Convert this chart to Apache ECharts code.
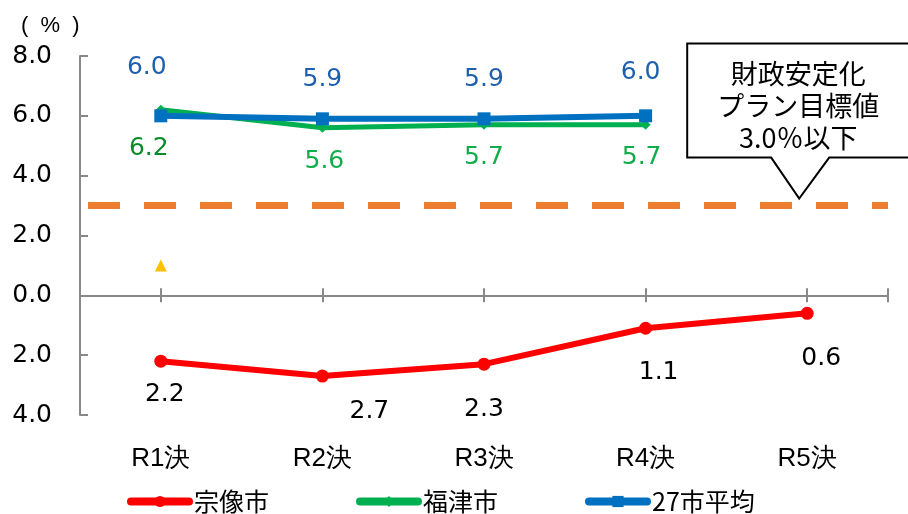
<!DOCTYPE html>
<html><head><meta charset="utf-8">
<script src="https://cdn.jsdelivr.net/npm/echarts@6/dist/echarts.min.js"></script>
<style>html,body{margin:0;padding:0;background:#fff}#c{width:908px;height:514px}</style>
</head><body><div id="c"></div>
<script>
// ---- data ----
const categories = ['R1決', 'R2決', 'R3決', 'R4決', 'R5決'];
const seriesNames = ['宗像市', '福津市', '27市平均'];
const munakataValues = [-2.2, -2.7, -2.3, -1.1, -0.6];
const fukutsuValues = [6.2, 5.6, 5.7, 5.7, null];
const avg27Values = [6.0, 5.9, 5.9, 6.0, null];
const triangleMarkerValues = [1.0, null, null, null, null];
const targetValue = 3.0;
const yMin = -4, yMax = 8, yStep = 2;
const calloutLines = ['財政安定化', 'プラン目標値', '3.0％以下'];
const unitLabel = '(  %  )';
// hidden helper slots for the crossing tick marks on the zero line
const tickSlots = ['0','1','2','3','4','5','6','7','8','9','10'];

// ---- styles ----
const NUM_FONT = 'DejaVu Sans';
const AX = '#898989';
const redOffsets = [[4, 33], [47, 35], [0, 45], [13, 44], [14, 45]];
const greenOffsets = [[-12, 39], [2, 34], [0, 33], [-4, 33]];
const greenLabelColors = ['#0B8A2A', '#12AD4B', '#12AD4B', '#12AD4B'];
const blueOffsets = [[-14, -48], [0, -39], [0, -39], [-5, -43]];

const fmtAbs = v => Math.abs(v).toFixed(1);

function withLabels(values, offsets, colors) {
  return values.map((v, i) => v == null ? null : ({
    value: v,
    label: { offset: offsets[i], color: Array.isArray(colors) ? colors[i] : colors }
  }));
}

const labelBase = {
  show: true, position: 'inside', fontFamily: NUM_FONT, fontSize: 25,
  formatter: p => fmtAbs(p.value)
};

const tickAxis = (inside, showLine) => ({
  type: 'category', data: tickSlots, boundaryGap: false, position: 'bottom',
  axisLine: { show: showLine, onZero: true, onZeroAxisIndex: 0, lineStyle: { color: AX, width: 2 } },
  axisTick: { show: true, inside: inside, length: 7, interval: (i) => (i % 2 === 1 || i === 10), lineStyle: { color: AX, width: 2 } },
  axisLabel: { show: false }, splitLine: { show: false }
});

const chart = echarts.init(document.getElementById('c'));
const option = {
  animation: false,
  backgroundColor: '#fff',
  title: {
    text: unitLabel, left: 16, top: 10,
    textStyle: { fontFamily: 'Liberation Sans', fontSize: 22, fontWeight: 'normal', color: '#000' }
  },
  grid: { left: 80, right: 20, top: 56, bottom: 99 },
  legend: {
    data: seriesNames, left: 122, top: 484, itemWidth: 58, itemHeight: 14, itemGap: 87,
    textStyle: { fontFamily: 'Noto Sans CJK JP', fontSize: 25, color: '#000' },
    lineStyle: { width: 8, cap: 'round' }
  },
  xAxis: [
    tickAxis(false, true),
    tickAxis(true, false),
    {
      type: 'category', data: categories, boundaryGap: true, position: 'bottom',
      axisLine: { show: false, onZero: false }, axisTick: { show: false },
      axisLabel: { margin: 31, fontFamily: 'Liberation Sans', fontSize: 26, color: '#000' },
      splitLine: { show: false }
    }
  ],
  yAxis: {
    type: 'value', min: yMin, max: yMax, interval: yStep,
    axisLine: { show: true, lineStyle: { color: AX, width: 2 } },
    axisTick: { show: true, inside: true, length: 8, lineStyle: { color: AX, width: 2 } },
    axisLabel: { margin: 28, fontFamily: NUM_FONT, fontSize: 25, color: '#000', formatter: v => fmtAbs(v) },
    splitLine: { show: false }
  },
  series: [
    {
      name: seriesNames[0], type: 'line', xAxisIndex: 2, data: withLabels(munakataValues, redOffsets, '#000'),
      color: '#FF0000', symbol: 'circle', symbolSize: 13,
      lineStyle: { width: 6, color: '#FF0000' }, itemStyle: { color: '#FF0000' },
      label: labelBase, z: 3,
      markLine: {
        silent: true, symbol: 'none', label: { show: false },
        lineStyle: { color: '#ED7D31', width: 7, type: [32, 24], dashOffset: 48 },
        data: [{ yAxis: targetValue }]
      }
    },
    {
      name: seriesNames[1], type: 'line', xAxisIndex: 2, data: withLabels(fukutsuValues, greenOffsets, greenLabelColors),
      color: '#00B050', symbol: 'diamond', symbolSize: 10,
      lineStyle: { width: 5, color: '#00B050' }, itemStyle: { color: '#00B050' },
      label: labelBase, z: 4
    },
    {
      name: seriesNames[2], type: 'line', xAxisIndex: 2, data: withLabels(avg27Values, blueOffsets, '#1F5FAF'),
      color: '#0070C0', symbol: 'rect', symbolSize: 13,
      lineStyle: { width: 6, color: '#0070C0' }, itemStyle: { color: '#0070C0' },
      label: labelBase, z: 5
    },
    {
      name: 'marker', type: 'line', xAxisIndex: 2, data: triangleMarkerValues,
      symbol: 'triangle', symbolSize: 12, showSymbol: true,
      lineStyle: { width: 0, opacity: 0 }, itemStyle: { color: '#FFC000' },
      label: { show: false }, z: 6
    }
  ]
};
chart.setOption(option);

// ---- callout anchored at R5 / target value ----
const tip = chart.convertToPixel({ xAxisIndex: 2, yAxisIndex: 0 }, [categories[4], targetValue]);
const tx = tip[0] - 8, ty = tip[1] - 7;
const L = tx - 112, R = tx + 140, T = ty - 155, B = ty - 41;
chart.setOption({
  graphic: [
    {
      type: 'polygon', z: 100,
      shape: { points: [[L, T], [R, T], [R, B], [tx + 30, B], [tx, ty], [tx - 28, B], [L, B]] },
      style: { fill: '#fff', stroke: '#000', lineWidth: 2 }
    },
    {
      type: 'text', z: 101, x: tx - 1, y: ty - 93,
      style: {
        text: calloutLines.join('\n'), font: '27px "Noto Sans CJK JP"', fill: '#000',
        align: 'center', verticalAlign: 'middle', textAlign: 'center', textVerticalAlign: 'middle', lineHeight: 32
      }
    }
  ]
});
</script>
</body></html>
